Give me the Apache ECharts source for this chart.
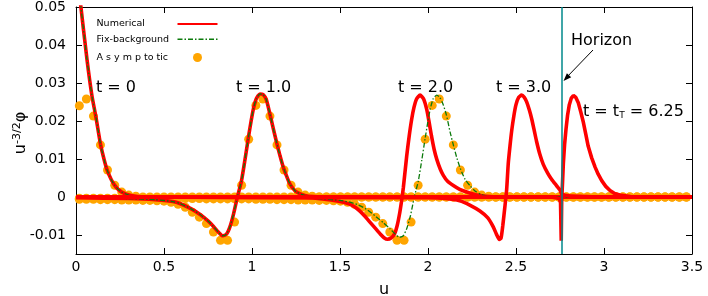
<!DOCTYPE html>
<html><head><meta charset="utf-8">
<script src="https://cdn.jsdelivr.net/npm/echarts@6/dist/echarts.min.js"></script>
<style>html,body{margin:0;padding:0;background:#fff}#c{width:708px;height:296px}</style>
</head><body><div id="c"></div>
<script>
// ---------------- data ----------------
const xTicks = [0, 0.5, 1, 1.5, 2, 2.5, 3, 3.5];
const yTicks = [-0.01, 0, 0.01, 0.02, 0.03, 0.04, 0.05];
const horizonU = 2.759;

// Numerical solution snapshots [u, u^{-3/2}phi]
const numT0 = [[0,0.062],[0.023,0.052],[0.0625,0.0362],[0.09,0.0268],[0.113,0.0211],[0.14,0.0137],[0.16,0.0098],[0.176,0.0072],[0.2,0.0046],[0.218,0.0032],[0.24,0.002],[0.26,0.0013],[0.3,0.0005],[0.35,0.0001],[0.4,0],[3.5,0]];
const numT1 = [[0,-0.0002],[0.3,-0.0004],[0.45,-0.0007],[0.55,-0.0012],[0.59,-0.0017],[0.65,-0.003],[0.705,-0.0046],[0.75,-0.0063],[0.78,-0.0077],[0.81,-0.0093],[0.833,-0.0102],[0.855,-0.0098],[0.875,-0.0078],[0.895,-0.0045],[0.917,0],[0.94,0.0042],[0.96,0.0098],[0.979,0.0155],[0.995,0.02],[1.008,0.0232],[1.025,0.0259],[1.045,0.0271],[1.062,0.027],[1.08,0.0258],[1.1,0.0222],[1.12,0.0182],[1.14,0.0143],[1.16,0.0107],[1.178,0.0078],[1.2,0.0051],[1.216,0.0034],[1.25,0.0014],[1.3,0.0004],[1.35,0.0001],[1.45,0],[3.5,0]];
const numT2 = [[0,0],[1.3,-0.0002],[1.4,-0.0005],[1.5,-0.0012],[1.55,-0.0018],[1.58,-0.0025],[1.61,-0.0036],[1.64,-0.005],[1.67,-0.0066],[1.7,-0.0082],[1.73,-0.0098],[1.75,-0.0107],[1.77,-0.0111],[1.79,-0.0108],[1.81,-0.0097],[1.825,-0.0075],[1.84,-0.004],[1.85,-0.001],[1.86,0.0025],[1.879,0.0108],[1.893,0.016],[1.907,0.0204],[1.92,0.0235],[1.935,0.0258],[1.955,0.0268],[1.975,0.0258],[1.993,0.023],[2.007,0.0195],[2.02,0.016],[2.035,0.0125],[2.05,0.0099],[2.07,0.0073],[2.087,0.0057],[2.11,0.0042],[2.144,0.003],[2.18,0.002],[2.22,0.0013],[2.27,0.0006],[2.33,0.0002],[2.4,0],[3.5,0]];
const numT3 = [[0,0],[2.0,-0.0002],[2.1,-0.0004],[2.18,-0.001],[2.24,-0.0022],[2.295,-0.0037],[2.34,-0.0055],[2.37,-0.0078],[2.39,-0.0099],[2.405,-0.0112],[2.415,-0.0108],[2.425,-0.0075],[2.437,-0.0025],[2.447,0.002],[2.456,0.0088],[2.466,0.0135],[2.476,0.0176],[2.488,0.0214],[2.5,0.0243],[2.515,0.0262],[2.532,0.0268],[2.546,0.0263],[2.56,0.0251],[2.575,0.023],[2.59,0.0204],[2.605,0.0172],[2.617,0.0146],[2.635,0.0113],[2.655,0.0086],[2.68,0.0063],[2.703,0.0046],[2.73,0.003],[2.75,0.0018],[2.76,0.0008],[2.8,0.0003],[2.9,0.0001],[3.0,0],[3.5,0]];
const numT625 = [[0,0],[2.7,0],[2.745,-0.0004],[2.753,-0.0015],[2.757,-0.0115],[2.7595,-0.0015],[2.762,0.0015],[2.765,0.0045],[2.769,0.0088],[2.776,0.0138],[2.784,0.0178],[2.793,0.0215],[2.803,0.0243],[2.814,0.026],[2.826,0.0267],[2.84,0.0262],[2.854,0.0248],[2.868,0.0224],[2.883,0.0196],[2.897,0.0164],[2.91,0.0134],[2.93,0.0103],[2.95,0.0078],[2.967,0.006],[2.987,0.0043],[3.01,0.0028],[3.034,0.0017],[3.06,0.0009],[3.09,0.0005],[3.15,0.0001],[3.2,0],[3.5,0]];

// Fix-background snapshots
const fixT0 = [[0,0.062],[0.023,0.052],[0.0625,0.0362],[0.09,0.0268],[0.113,0.0211],[0.14,0.0137],[0.16,0.0098],[0.176,0.0072],[0.2,0.0046],[0.218,0.0032],[0.24,0.002],[0.26,0.0013],[0.3,0.0005],[0.35,0.0001],[0.4,0],[3.5,0]];
const fixT1 = [[0,-0.0002],[0.3,-0.0004],[0.45,-0.0007],[0.55,-0.0012],[0.59,-0.0017],[0.65,-0.003],[0.705,-0.0046],[0.75,-0.0063],[0.78,-0.0077],[0.81,-0.0093],[0.833,-0.0102],[0.855,-0.0098],[0.875,-0.0078],[0.895,-0.0045],[0.917,0],[0.94,0.0042],[0.96,0.0098],[0.979,0.0155],[0.995,0.02],[1.008,0.0232],[1.025,0.0259],[1.045,0.0271],[1.062,0.027],[1.08,0.0258],[1.1,0.0222],[1.12,0.0182],[1.14,0.0143],[1.16,0.0107],[1.178,0.0078],[1.2,0.0051],[1.216,0.0034],[1.25,0.0014],[1.3,0.0004],[1.35,0.0001],[1.45,0],[3.5,0]];
const fixT2 = [[0,0],[1.3,-0.0002],[1.4,-0.0005],[1.5,-0.0009],[1.55,-0.0013],[1.6,-0.002],[1.65,-0.0032],[1.7,-0.005],[1.745,-0.0067],[1.785,-0.0084],[1.815,-0.0098],[1.838,-0.0106],[1.86,-0.0102],[1.88,-0.0082],[1.9,-0.005],[1.922,0],[1.945,0.0042],[1.965,0.0098],[1.984,0.0155],[2.0,0.02],[2.013,0.0232],[2.03,0.0259],[2.05,0.0268],[2.067,0.0262],[2.085,0.0245],[2.105,0.0215],[2.125,0.0172],[2.145,0.0135],[2.165,0.0101],[2.183,0.0076],[2.21,0.0047],[2.24,0.0029],[2.267,0.0016],[2.305,0.0006],[2.355,0.0001],[2.45,0],[3.5,0]];

// Asymptotic points on a common u grid
const asymU = [0.019,0.059,0.099,0.139,0.179,0.220,0.260,0.300,0.340,0.380,0.420,0.460,0.500,0.540,0.580,0.621,0.661,0.701,0.741,0.781,0.821,0.861,0.901,0.941,0.981,1.022,1.062,1.102,1.142,1.182,1.222,1.262,1.302,1.342,1.382,1.423,1.463,1.503,1.543,1.583,1.623,1.663,1.703,1.743,1.783,1.824,1.864,1.904,1.944,1.984,2.024,2.064,2.104,2.144,2.184,2.225,2.265,2.305,2.345,2.385,2.425,2.465,2.505,2.545,2.585,2.626,2.666,2.706,2.746,2.786,2.826,2.866,2.906,2.946,2.986,3.027,3.067,3.107,3.147,3.187,3.227,3.267,3.307,3.347,3.387,3.428,3.468];
const asymT0 = [0.024,0.0258,0.0213,0.0137,0.0071,0.0031,0.0013,0.0005,0.0002,0,0,0,0,0,0,0,0,0,0,0,0,0,0,0,0,0,0,0,0,0,0,0,0,0,0,0,0,0,0,0,0,0,0,0,0,0,0,0,0,0,0,0,0,0,0,0,0,0,0,0,0,0,0,0,0,0,0,0,0,0,0,0,0,0,0,0,0,0,0,0,0,0,0,0,0,0,0];
const asymT1 = [-0.0006,-0.0006,-0.0006,-0.0007,-0.0007,-0.0007,-0.0008,-0.0008,-0.0008,-0.0009,-0.0009,-0.001,-0.0011,-0.0014,-0.0019,-0.0027,-0.004,-0.0053,-0.007,-0.0092,-0.0114,-0.0114,-0.0066,0.0031,0.0152,0.0241,0.0258,0.0213,0.0137,0.0071,0.0031,0.0013,0.0005,0.0002,0,0,0,0,0,0,0,0,0,0,0,0,0,0,0,0,0,0,0,0,0,0,0,0,0,0,0,0,0,0,0,0,0,0,0,0,0,0,0,0,0,0,0,0,0,0,0,0,0,0,0,0,0];
const asymT2 = [-0.0003,-0.0003,-0.0003,-0.0003,-0.0003,-0.0003,-0.0003,-0.0003,-0.0003,-0.0003,-0.0004,-0.0004,-0.0004,-0.0004,-0.0004,-0.0004,-0.0004,-0.0004,-0.0005,-0.0005,-0.0005,-0.0005,-0.0005,-0.0005,-0.0005,-0.0006,-0.0006,-0.0006,-0.0007,-0.0007,-0.0007,-0.0008,-0.0008,-0.0008,-0.0009,-0.0009,-0.001,-0.0011,-0.0014,-0.0019,-0.0027,-0.004,-0.0053,-0.007,-0.0092,-0.0114,-0.0114,-0.0066,0.0031,0.0152,0.0241,0.0258,0.0213,0.0137,0.0071,0.0031,0.0013,0.0005,0.0002,0,0,0,0,0,0,0,0,0,0,0,0,0,0,0,0,0,0,0,0,0,0,0,0,0,0,0,0];

const legendNames = ['Numerical', 'Fix-background', 'A s y m p to tic'];
const timeLabels = ['t = 0', 't = 1.0', 't = 2.0', 't = 3.0'];

// ---------------- chart ----------------
const FONT = 'DejaVu Sans';
const RED = '#ff0000', GREEN = '#0b7a0b', ORANGE = '#ffa500', TEAL = '#00898b';
const chart = echarts.init(document.getElementById('c'), null, {renderer: 'canvas'});

function numSeries(data, extra) {
  return Object.assign({
    name: legendNames[0], type: 'line', data: data, showSymbol: false, symbol: 'none',
    smooth: 0.2, lineStyle: {color: RED, width: 3.6}, itemStyle: {color: RED},
    clip: true, silent: true
  }, extra || {});
}
function fixSeries(data) {
  return {
    name: legendNames[1], type: 'line', data: data, showSymbol: false, symbol: 'none',
    smooth: 0.2, lineStyle: {color: GREEN, width: 1.3, type: [5, 2, 1.5, 2]}, itemStyle: {color: GREEN},
    clip: true, silent: true
  };
}
function asymSeries(vals) {
  return {
    name: legendNames[2], type: 'scatter', data: asymU.map((u, i) => [u, vals[i]]),
    symbol: 'circle', symbolSize: 9, itemStyle: {color: ORANGE, opacity: 1}, clip: true, silent: true
  };
}
const fmt = v => String(Math.round(v * 1000) / 1000);

const axisCommon = {
  axisLine: {show: true, onZero: false, lineStyle: {color: '#000', width: 1}},
  axisTick: {show: true, inside: true, length: 6, lineStyle: {color: '#000', width: 1}},
  splitLine: {show: false}
};
const hiddenSym = {color: 'rgba(0,0,0,0)', borderWidth: 0, opacity: 0};
const legendText = {fontFamily: FONT, fontSize: 9.5, color: '#000',
  rich: {a: {fontFamily: FONT, fontSize: 9.5, color: '#000', width: 76, align: 'left'}}};
const legendCommon = {orient: 'vertical', align: 'right', left: 96.5, padding: 0, itemWidth: 40,
  formatter: '{a|{name}}', textStyle: legendText, selectedMode: false};

const option = {
  animation: false,
  backgroundColor: '#fff',
  grid: {left: 76, right: 16, top: 7, bottom: 42, containLabel: false, outerBoundsMode: 'none'},
  xAxis: [
    Object.assign({type: 'value', position: 'bottom', min: 0, max: 3.5, interval: 0.5,
      axisLabel: {fontFamily: FONT, fontSize: 14, color: '#000', margin: 6, formatter: fmt,
        customValues: xTicks},
      name: 'u', nameLocation: 'middle', nameGap: 28,
      nameTextStyle: {fontFamily: FONT, fontSize: 16, color: '#000'}}, axisCommon,
      {axisTick: Object.assign({}, axisCommon.axisTick, {customValues: xTicks})}),
    Object.assign({type: 'value', position: 'top', min: 0, max: 3.5, interval: 0.5,
      axisLabel: {show: false}}, axisCommon,
      {axisTick: Object.assign({}, axisCommon.axisTick, {customValues: xTicks})})
  ],
  yAxis: [
    Object.assign({type: 'value', position: 'left', min: -0.015, max: 0.05,
      axisLabel: {fontFamily: FONT, fontSize: 14, color: '#000', margin: 10, formatter: fmt,
        customValues: yTicks}}, axisCommon,
      {axisTick: Object.assign({}, axisCommon.axisTick, {customValues: yTicks})}),
    Object.assign({type: 'value', position: 'right', min: -0.015, max: 0.05,
      axisLabel: {show: false}}, axisCommon,
      {axisTick: Object.assign({}, axisCommon.axisTick, {customValues: yTicks})})
  ],
  legend: [
    Object.assign({data: [legendNames[0]], top: 19, itemHeight: 10, lineStyle: {width: 2}, itemStyle: hiddenSym}, legendCommon),
    Object.assign({data: [legendNames[1]], top: 34.3, itemHeight: 10, lineStyle: {width: 1.5}, itemStyle: hiddenSym}, legendCommon),
    Object.assign({data: [legendNames[2]], top: 52.5, itemHeight: 9}, legendCommon)
  ],
  series: [
    numSeries(numT0, {markLine: {silent: true, symbol: 'none', label: {show: false},
      lineStyle: {color: TEAL, width: 1.5, type: 'solid'}, data: [{xAxis: horizonU}]}}),
    fixSeries(fixT0),
    asymSeries(asymT0),
    numSeries(numT1),
    fixSeries(fixT1),
    asymSeries(asymT1),
    numSeries(numT2),
    fixSeries(fixT2),
    asymSeries(asymT2),
    numSeries(numT3),
    numSeries(numT625, {smooth: false})
  ],
  graphic: [
    {type: 'text', left: 96, top: 80, style: {text: timeLabels[0], font: '16px "DejaVu Sans"', fill: '#000'}, silent: true},
    {type: 'text', left: 236, top: 80, style: {text: timeLabels[1], font: '16px "DejaVu Sans"', fill: '#000'}, silent: true},
    {type: 'text', left: 398, top: 80, style: {text: timeLabels[2], font: '16px "DejaVu Sans"', fill: '#000'}, silent: true},
    {type: 'text', left: 496, top: 80, style: {text: timeLabels[3], font: '16px "DejaVu Sans"', fill: '#000'}, silent: true},
    {type: 'text', left: 571, top: 33, style: {text: 'Horizon', font: '16px "DejaVu Sans"', fill: '#000'}, silent: true},
    {type: 'text', left: 583, top: 104, silent: true, style: {
      text: 't = t{s|T} = 6.25', fill: '#000', fontFamily: FONT, fontSize: 16,
      rich: {s: {fontFamily: FONT, fontSize: 9, verticalAlign: 'bottom', lineHeight: 12, padding: [6, 0, 0, 0]}}}},
    {type: 'line', silent: true, shape: {x1: 593, y1: 50, x2: 566, y2: 78}, style: {stroke: '#000', lineWidth: 1}},
    {type: 'polygon', silent: true, shape: {points: [[563.5, 81], [571.2, 77.3], [566.9, 73.2]]}, style: {fill: '#000'}},
    {type: 'text', x: 21, y: 133, rotation: Math.PI / 2, silent: true, style: {
      text: 'u{s|-3/2}φ', fill: '#000', fontFamily: FONT, fontSize: 16, align: 'center', verticalAlign: 'middle',
      rich: {s: {fontFamily: FONT, fontSize: 11, verticalAlign: 'top', padding: [0, 0, 8, 0]}}}}
  ]
};
chart.setOption(option);
</script></body></html>
